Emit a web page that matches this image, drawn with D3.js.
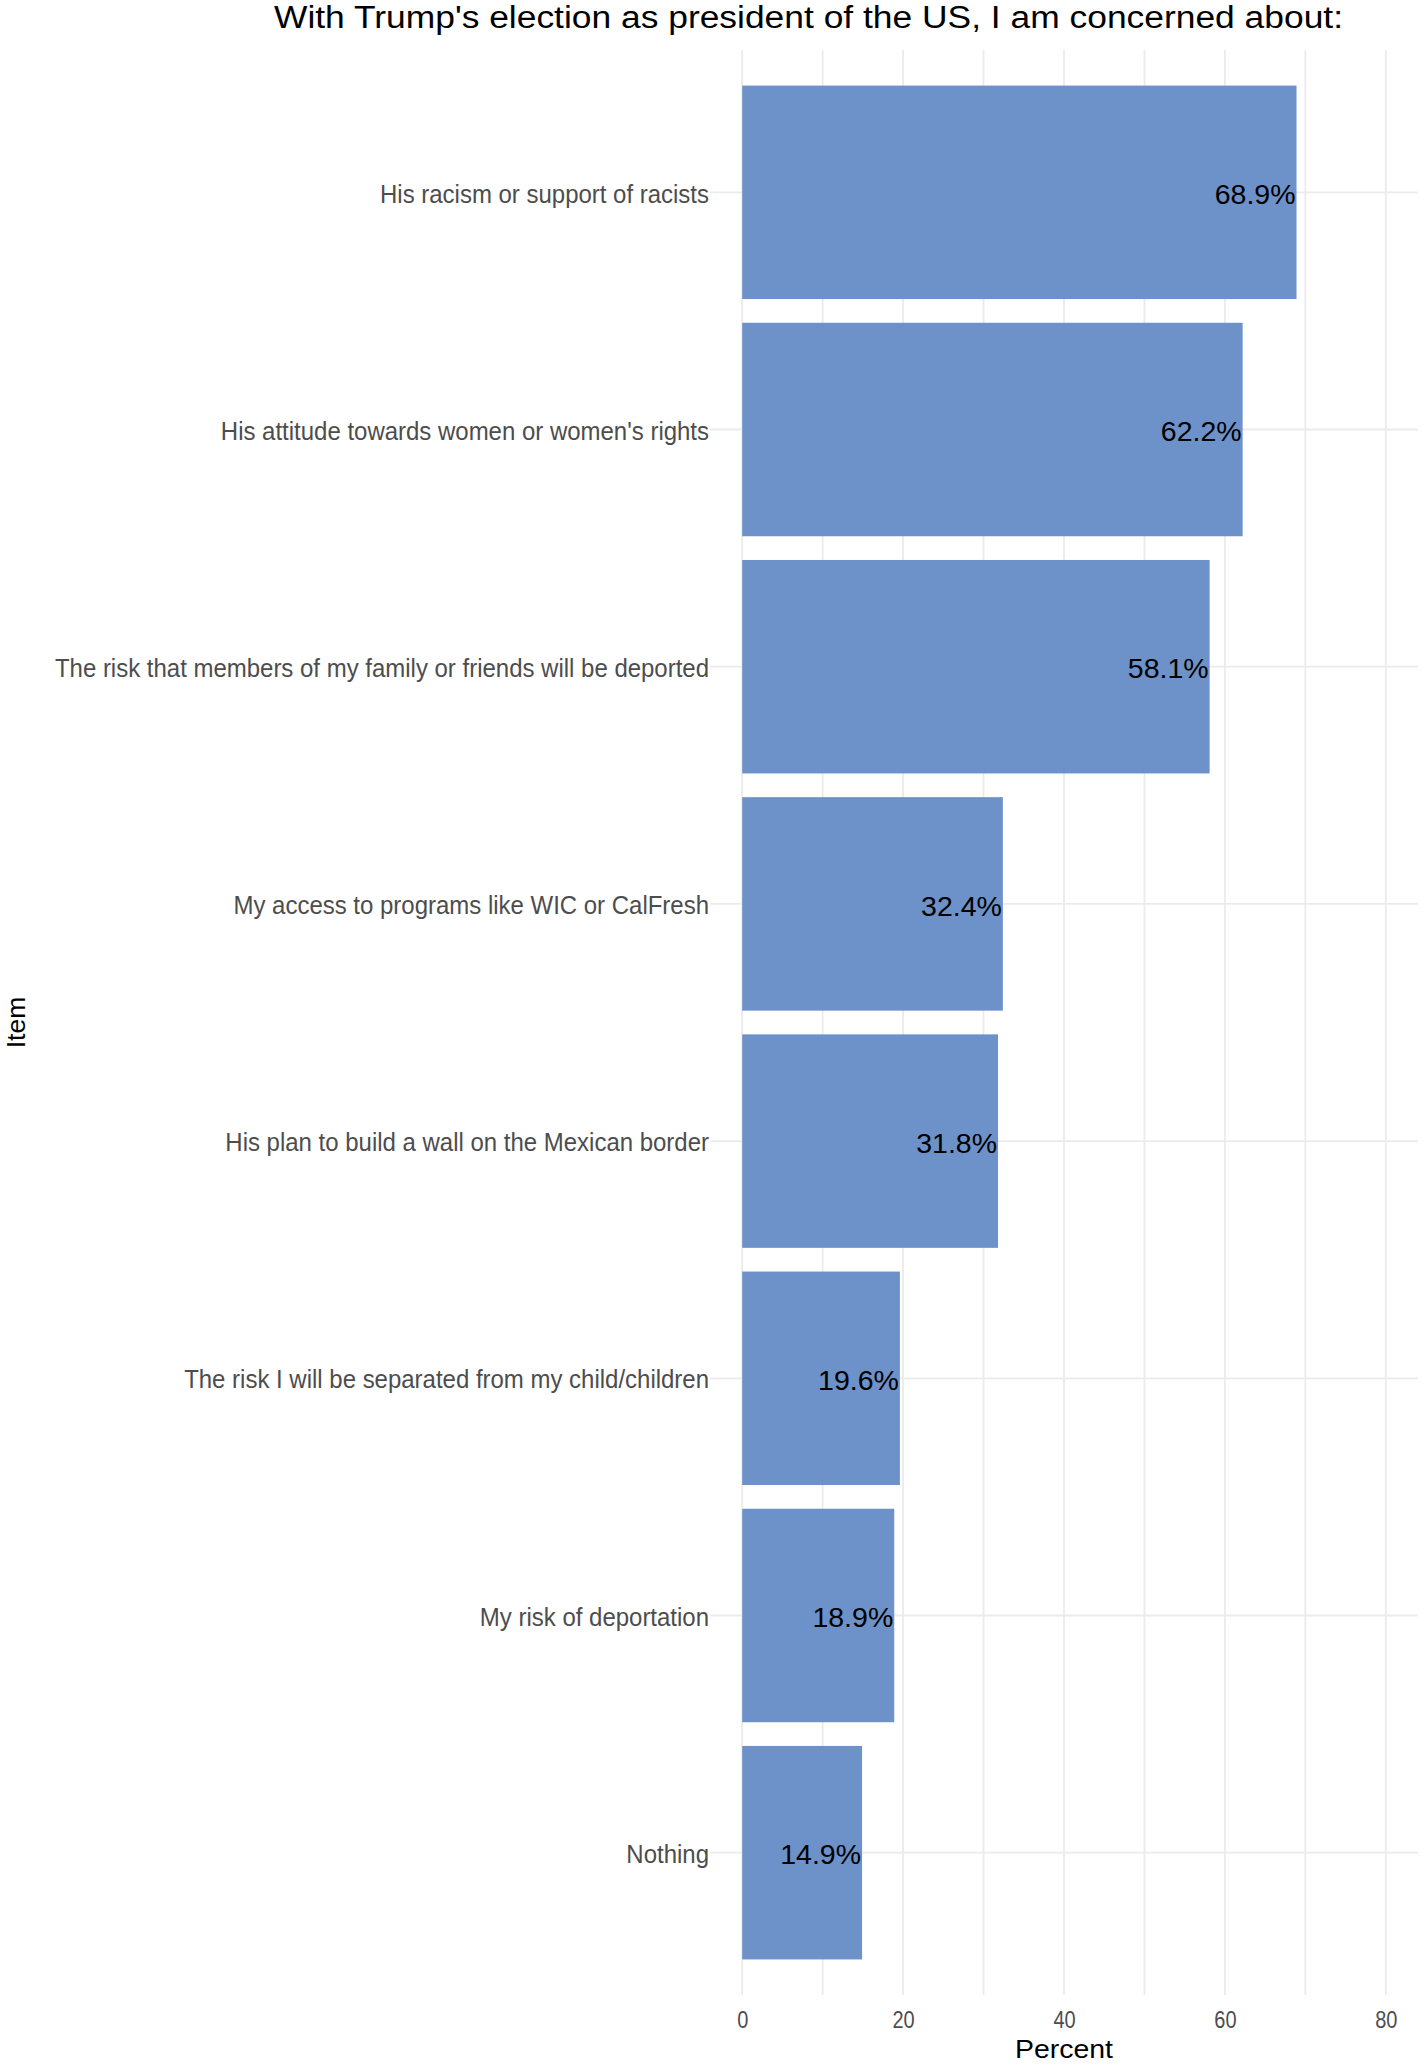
<!DOCTYPE html>
<html>
<head>
<meta charset="utf-8">
<script src="https://cdnjs.cloudflare.com/ajax/libs/d3/7.8.5/d3.min.js"></script>
<style>
  body { margin: 0; background: #fff; }
  svg { display: block; }
  text { font-family: "Liberation Sans", Arial, sans-serif; }
</style>
</head>
<body>
<script>
// chart data
var items = [
  "His racism or support of racists",
  "His attitude towards women or women's rights",
  "The risk that members of my family or friends will be deported",
  "My access to programs like WIC or CalFresh",
  "His plan to build a wall on the Mexican border",
  "The risk I will be separated from my child/children",
  "My risk of deportation",
  "Nothing"
];
var percents = [68.9, 62.2, 58.1, 32.4, 31.8, 19.6, 18.9, 14.9];
var xTicks = [0, 20, 40, 60, 80];
var xGrid = [0, 10, 20, 30, 40, 50, 60, 70, 80];
var title = "With Trump's election as president of the US, I am concerned about:";

var w = 1422;
var h = 2064;
var panel = { left: 710, right: 1418, top: 50, bottom: 1995 };
var barColor = "#6d91c9";
var gridColor = "#ebebeb";

var rows = items.map(function(d, i) { return { item: d, pct: percents[i] }; });

var svg = d3.select("body")
  .append("svg")
  .attr("width", w)
  .attr("height", h);

var x = d3.scaleLinear()
  .domain([-4, 84])
  .range([panel.left, panel.right]);

var y = d3.scaleBand()
  .domain(items)
  .range([panel.top, panel.bottom])
  .paddingInner(0.1)
  .paddingOuter(0.15);

// grid
svg.append("g")
  .selectAll("line")
  .data(xGrid)
  .enter()
  .append("line")
  .attr("x1", function(d) { return x(d); })
  .attr("x2", function(d) { return x(d); })
  .attr("y1", panel.top)
  .attr("y2", panel.bottom)
  .attr("stroke", gridColor)
  .attr("stroke-width", 1.8);

svg.append("g")
  .selectAll("line")
  .data(items)
  .enter()
  .append("line")
  .attr("x1", panel.left)
  .attr("x2", panel.right)
  .attr("y1", function(d) { return y(d) + y.bandwidth() / 2; })
  .attr("y2", function(d) { return y(d) + y.bandwidth() / 2; })
  .attr("stroke", gridColor)
  .attr("stroke-width", 1.8);

// bars
svg.append("g")
  .selectAll("rect")
  .data(rows)
  .enter()
  .append("rect")
  .attr("x", x(0))
  .attr("y", function(d) { return y(d.item); })
  .attr("width", function(d) { return x(d.pct) - x(0); })
  .attr("height", y.bandwidth())
  .attr("fill", barColor);

// value labels
svg.append("g")
  .selectAll("text")
  .data(rows)
  .enter()
  .append("text")
  .attr("x", function(d) { return x(d.pct) - 1; })
  .attr("y", function(d) { return y(d.item) + y.bandwidth() / 2; })
  .attr("dy", "0.41em")
  .attr("text-anchor", "end")
  .attr("font-size", 28.5)
  .attr("fill", "#000")
  .text(function(d) { return d3.format(".1f")(d.pct) + "%"; });

// y axis (category labels)
var yAxis = svg.append("g")
  .attr("transform", "translate(709,0)")
  .call(d3.axisLeft(y).tickSize(0).tickPadding(0));
yAxis.select(".domain").remove();
yAxis.selectAll("text")
  .attr("font-family", null)
  .attr("font-size", 25.5)
  .attr("fill", "#4d4d4d")
  .attr("dy", "0.4em")
  .each(function() {
    var t = d3.select(this);
    t.attr("textLength", this.getComputedTextLength() * 0.94)
     .attr("lengthAdjust", "spacingAndGlyphs");
    var b = this.getBBox();
    d3.select(this.parentNode).insert("rect", "text")
      .attr("x", b.x - 3)
      .attr("y", b.y)
      .attr("width", b.width + 4)
      .attr("height", b.height)
      .attr("fill", "#fff");
  });

// x axis
var xAxis = svg.append("g")
  .attr("transform", "translate(0,2028)")
  .call(d3.axisBottom(x).tickValues(xTicks).tickSize(0).tickPadding(0));
xAxis.select(".domain").remove();
xAxis.selectAll("text")
  .attr("font-family", null)
  .attr("font-size", 24.7)
  .attr("fill", "#4d4d4d")
  .attr("y", 0)
  .attr("dy", 0)
  .each(function() {
    d3.select(this)
      .attr("textLength", this.getComputedTextLength() * 0.81)
      .attr("lengthAdjust", "spacingAndGlyphs");
  });

// axis titles
svg.append("text")
  .attr("x", (panel.left + panel.right) / 2)
  .attr("y", 2058)
  .attr("text-anchor", "middle")
  .attr("font-size", 25.6)
  .attr("fill", "#000")
  .attr("textLength", 98)
  .attr("lengthAdjust", "spacingAndGlyphs")
  .text("Percent");

svg.append("text")
  .attr("transform", "translate(25," + (panel.top + panel.bottom) / 2 + ") rotate(-90)")
  .attr("text-anchor", "middle")
  .attr("font-size", 26.5)
  .attr("fill", "#000")
  .text("Item");

// title
svg.append("text")
  .attr("x", 274)
  .attr("y", 28)
  .attr("font-size", 31)
  .attr("fill", "#000")
  .attr("textLength", 1069)
  .attr("lengthAdjust", "spacingAndGlyphs")
  .text(title);
</script>
</body>
</html>
